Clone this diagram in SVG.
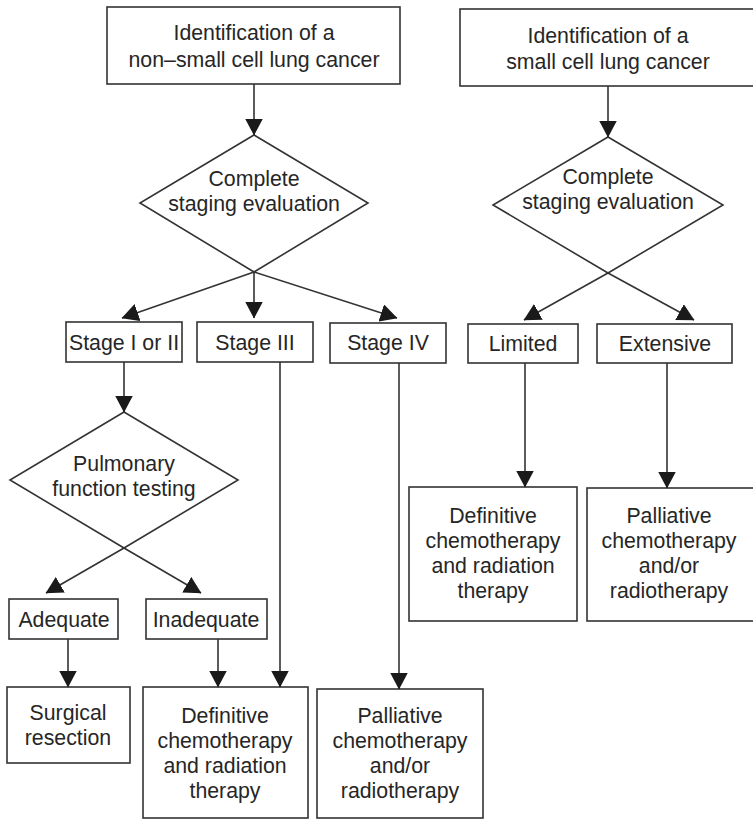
<svg xmlns="http://www.w3.org/2000/svg" width="753" height="820" viewBox="0 0 753 820">
  <style>
    .box { fill: none; stroke: #333; stroke-width: 1.6; }
    .lbl { font-family: "Liberation Sans", Arial, sans-serif; font-size: 21.3px; fill: #262626; text-anchor: middle; }
    .edge { fill: none; stroke: #333; stroke-width: 1.6; marker-end: url(#arrow); }
  </style>
  <defs>
    <marker id="arrow" viewBox="0 0 17 18" refX="16.5" refY="9" markerWidth="17" markerHeight="18" markerUnits="userSpaceOnUse" orient="auto">
      <path d="M0,0 L17,9 L0,18 Z" fill="#1a1a1a"/>
    </marker>
  </defs>
  <rect width="753" height="820" fill="#ffffff"/>

  <!-- non-small cell branch -->
  <g id="nsclc">
    <rect class="box" x="107" y="7" width="293" height="77"/>
    <text class="lbl" x="254" y="40">Identification of a</text>
    <text class="lbl" x="254" y="67">non–small cell lung cancer</text>
  </g>
  <g id="staging-nsclc">
    <polygon class="box" points="254,135 368,203 254,272 140,203"/>
    <text class="lbl" x="254" y="186">Complete</text>
    <text class="lbl" x="254" y="211">staging evaluation</text>
  </g>
  <g id="stage-1-2">
    <rect class="box" x="66" y="322" width="116" height="40"/>
    <text class="lbl" x="124" y="350">Stage I or II</text>
  </g>
  <g id="stage-3">
    <rect class="box" x="197" y="322" width="116" height="40"/>
    <text class="lbl" x="255" y="350">Stage III</text>
  </g>
  <g id="stage-4">
    <rect class="box" x="330" y="323" width="116" height="40"/>
    <text class="lbl" x="388" y="350">Stage IV</text>
  </g>
  <g id="pft">
    <polygon class="box" points="124,412 238,480 124,548 10,480"/>
    <text class="lbl" x="124" y="471">Pulmonary</text>
    <text class="lbl" x="124" y="496">function testing</text>
  </g>
  <g id="adequate">
    <rect class="box" x="9" y="599" width="109" height="40"/>
    <text class="lbl" x="64" y="627">Adequate</text>
  </g>
  <g id="inadequate">
    <rect class="box" x="146" y="599" width="121" height="40"/>
    <text class="lbl" x="206" y="627">Inadequate</text>
  </g>
  <g id="surgery">
    <rect class="box" x="7" y="687" width="123" height="76"/>
    <text class="lbl" x="68" y="720">Surgical</text>
    <text class="lbl" x="68" y="745">resection</text>
  </g>
  <g id="definitive-nsclc">
    <rect class="box" x="143" y="687" width="165" height="131"/>
    <text class="lbl" x="225" y="723">Definitive</text>
    <text class="lbl" x="225" y="748">chemotherapy</text>
    <text class="lbl" x="225" y="773">and radiation</text>
    <text class="lbl" x="225" y="798">therapy</text>
  </g>
  <g id="palliative-nsclc">
    <rect class="box" x="317" y="689" width="166" height="129"/>
    <text class="lbl" x="400" y="723">Palliative</text>
    <text class="lbl" x="400" y="748">chemotherapy</text>
    <text class="lbl" x="400" y="773">and/or</text>
    <text class="lbl" x="400" y="798">radiotherapy</text>
  </g>

  <!-- small cell branch -->
  <g id="sclc">
    <rect class="box" x="460" y="9" width="296" height="77"/>
    <text class="lbl" x="608" y="43">Identification of a</text>
    <text class="lbl" x="608" y="69">small cell lung cancer</text>
  </g>
  <g id="staging-sclc">
    <polygon class="box" points="608,137 723,205 608,273 493,205"/>
    <text class="lbl" x="608" y="184">Complete</text>
    <text class="lbl" x="608" y="209">staging evaluation</text>
  </g>
  <g id="limited">
    <rect class="box" x="468" y="324" width="110" height="39"/>
    <text class="lbl" x="523" y="351">Limited</text>
  </g>
  <g id="extensive">
    <rect class="box" x="597" y="324" width="135" height="39"/>
    <text class="lbl" x="665" y="351">Extensive</text>
  </g>
  <g id="definitive-sclc">
    <rect class="box" x="409" y="487" width="168" height="134"/>
    <text class="lbl" x="493" y="523">Definitive</text>
    <text class="lbl" x="493" y="548">chemotherapy</text>
    <text class="lbl" x="493" y="573">and radiation</text>
    <text class="lbl" x="493" y="598">therapy</text>
  </g>
  <g id="palliative-sclc">
    <rect class="box" x="587" y="488" width="170" height="133"/>
    <text class="lbl" x="669" y="523">Palliative</text>
    <text class="lbl" x="669" y="548">chemotherapy</text>
    <text class="lbl" x="669" y="573">and/or</text>
    <text class="lbl" x="669" y="598">radiotherapy</text>
  </g>

  <!-- connectors -->
  <g id="connectors">
    <path class="edge" d="M254,84 L254,135"/>
    <path class="edge" d="M254,272 L122,318"/>
    <path class="edge" d="M254,272 L254,318"/>
    <path class="edge" d="M254,272 L397,318"/>
    <path class="edge" d="M124,362 L124,412"/>
    <path class="edge" d="M124,548 L46,593"/>
    <path class="edge" d="M124,548 L201,593"/>
    <path class="edge" d="M68,639 L68,687"/>
    <path class="edge" d="M218,639 L218,687"/>
    <path class="edge" d="M280,362 L280,687"/>
    <path class="edge" d="M399,363 L399,689"/>
    <path class="edge" d="M608,86 L608,137"/>
    <path class="edge" d="M608,273 L524,320"/>
    <path class="edge" d="M608,273 L694,320"/>
    <path class="edge" d="M525,363 L525,487"/>
    <path class="edge" d="M667,363 L667,488"/>
  </g>
</svg>
